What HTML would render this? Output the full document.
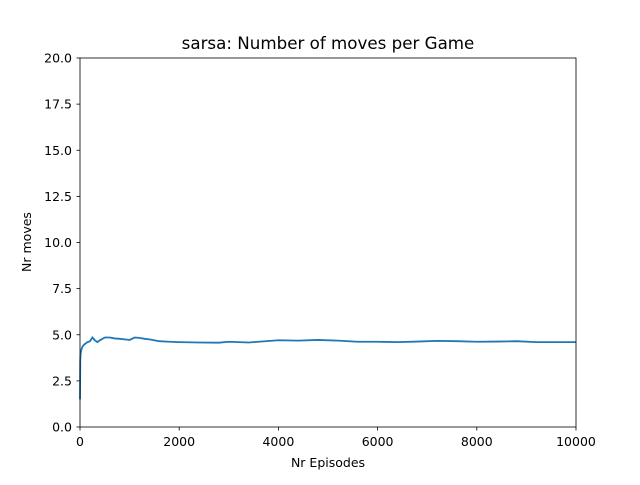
<!DOCTYPE html>
<html><head><meta charset="utf-8"><style>
body{margin:0;background:#fff;font-family:"Liberation Sans","DejaVu Sans",sans-serif;}
svg text{font-family:"DejaVu Sans","Liberation Sans",sans-serif;font-size:12.5px;fill:#000;}
</style></head><body>
<svg id="chart" width="640" height="480" xmlns="http://www.w3.org/2000/svg">
<rect width="640" height="480" fill="#fff"/>
<text x="328" y="49" text-anchor="middle" style="font-size:16.7px">sarsa: Number of moves per Game</text>
<text x="328" y="467" text-anchor="middle">Nr Episodes</text>
<text x="31" y="242" text-anchor="middle" transform="rotate(-90 31 242)">Nr moves</text>
<g id="ticks"></g>
<polyline id="series" fill="none" stroke="#1f77b4" stroke-width="1.8"/>
<rect x="80" y="58" width="496" height="369" fill="none" stroke="#000" stroke-width="0.8"/>
</svg>
<script>
const episodes=[0,5,10,20,40,60,100,150,200,250,300,350,400,500,600,700,800,900,1000,1100,1200,1300,1400,1600,1800,2000,2400,2800,3000,3400,3600,4000,4400,4800,5200,5600,6000,6400,6800,7200,7600,8000,8400,8800,9200,9600,10000];
const moves=[1.5,3.6,3.9,4.1,4.3,4.4,4.5,4.6,4.65,4.85,4.7,4.6,4.7,4.85,4.85,4.8,4.78,4.75,4.72,4.85,4.83,4.78,4.75,4.65,4.62,4.6,4.58,4.57,4.62,4.58,4.62,4.7,4.68,4.72,4.68,4.62,4.62,4.6,4.63,4.67,4.65,4.62,4.63,4.65,4.6,4.6,4.6];
const xTicks=[0,2000,4000,6000,8000,10000];
const yTicks=[0,2.5,5,7.5,10,12.5,15,17.5,20];
const yLabels=["0.0","2.5","5.0","7.5","10.0","12.5","15.0","17.5","20.0"];
const X=v=>80+v/10000*496, Y=v=>427-v/20*369;
const g=document.getElementById('ticks'),NS="http://www.w3.org/2000/svg";
xTicks.forEach(t=>{
const l=document.createElementNS(NS,'line');


l.setAttribute('x1',X(t));l.setAttribute('x2',X(t));l.setAttribute('y1',427);l.setAttribute('y2',430.5);l.setAttribute('stroke','#000');l.setAttribute('stroke-width','0.8');g.appendChild(l);
const tx=document.createElementNS(NS,'text');


tx.setAttribute('x',X(t));tx.setAttribute('y',446);tx.setAttribute('text-anchor','middle');tx.textContent=t;g.appendChild(tx);});
yTicks.forEach((t,i)=>{
const l=document.createElementNS(NS,'line');


l.setAttribute('x1',76.5);l.setAttribute('x2',80);l.setAttribute('y1',Y(t));l.setAttribute('y2',Y(t));l.setAttribute('stroke','#000');l.setAttribute('stroke-width','0.8');g.appendChild(l);
const tx=document.createElementNS(NS,'text');


tx.setAttribute('x',72);tx.setAttribute('y',Y(t)+4.5);tx.setAttribute('text-anchor','end');tx.textContent=yLabels[i];g.appendChild(tx);});
document.getElementById('series').setAttribute('points',episodes.map((e,i)=>X(e)+','+Y(moves[i])).join(' '));
</script>
</body></html>
